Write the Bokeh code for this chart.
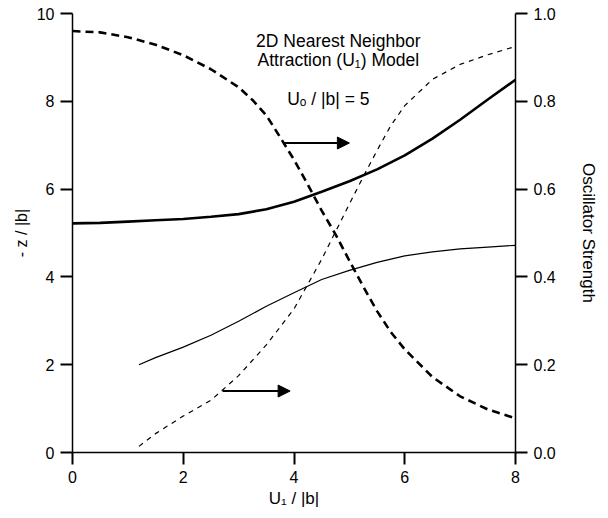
from bokeh.plotting import figure
from bokeh.models import (Range1d, LinearAxis, FixedTicker, PrintfTickFormatter,
                          Arrow, NormalHead, ColumnDataSource)
from bokeh.core.properties import value
from bokeh.embed import file_html
from bokeh.resources import INLINE

FONT = "Liberation Sans"

# ---- data ----
# thick solid, left axis (-z/|b|)
x_thick = [0, 0.5, 1.0, 1.5, 2.0, 2.5, 3.0, 3.5, 4.0, 4.5, 5.0, 5.5, 6.0, 6.5, 7.0, 7.5, 8.0]
z_thick = [5.22, 5.23, 5.26, 5.29, 5.32, 5.37, 5.43, 5.54, 5.71, 5.94, 6.18, 6.45, 6.77, 7.15, 7.58, 8.04, 8.49]

# thin solid, left axis
x_thin = [1.2, 1.5, 2.0, 2.5, 3.0, 3.5, 4.0, 4.5, 5.0, 5.5, 6.0, 6.5, 7.0, 7.5, 8.0]
z_thin = [2.00, 2.16, 2.40, 2.67, 2.99, 3.33, 3.64, 3.94, 4.15, 4.33, 4.48, 4.57, 4.64, 4.68, 4.72]

# thick dashed, right axis (oscillator strength)
x_osc_thick = [0, 0.5, 1.0, 1.5, 2.0, 2.5, 3.0, 3.25, 3.5, 3.75, 4.0, 4.25, 4.5, 4.75,
               5.0, 5.25, 5.5, 5.75, 6.0, 6.5, 7.0, 7.5, 8.0]
f_osc_thick = [0.960, 0.957, 0.946, 0.929, 0.905, 0.873, 0.832, 0.803, 0.768, 0.718, 0.667,
               0.610, 0.551, 0.497, 0.437, 0.378, 0.322, 0.274, 0.235, 0.172, 0.128, 0.098, 0.078]

# thin dashed, right axis
x_osc_thin = [1.2, 1.5, 2.0, 2.5, 3.0, 3.5, 4.0, 4.5, 5.0, 5.25, 5.5, 5.75, 6.0, 6.5, 7.0, 7.5, 8.0]
f_osc_thin = [0.014, 0.043, 0.083, 0.119, 0.175, 0.245, 0.327, 0.440, 0.566, 0.628, 0.688,
              0.745, 0.790, 0.850, 0.884, 0.906, 0.925]

# tick values
x_ticks = [0, 2, 4, 6, 8]
z_ticks = [0, 2, 4, 6, 8, 10]
f_ticks = [0.0, 0.2, 0.4, 0.6, 0.8, 1.0]

# arrows (left-axis units)
arrow_x_start = [3.82, 2.71]
arrow_x_end = [5.0, 3.93]
arrow_y = [7.05, 1.40]

# annotations
note_x = [4.8, 4.8, 4.62]
note_y = [9.38, 8.93, 8.06]
note_text = ["2D Nearest Neighbor", "Attraction (U\u2081) Model", "U\u2092 / |b| = 5"]

# ---- figure ----
p = figure(width=608, height=518, output_backend="svg", toolbar_location=None,
           x_range=Range1d(0, 8), y_range=Range1d(0, 10),
           min_border_left=72, min_border_right=93, min_border_top=13, min_border_bottom=66)
p.extra_y_ranges = {"osc": Range1d(0, 1.0)}
p.xgrid.visible = False
p.ygrid.visible = False
p.outline_line_color = None
p.background_fill_color = "white"
p.border_fill_color = "white"

right_axis = LinearAxis(y_range_name="osc")
p.add_layout(right_axis, "right")

p.xaxis.ticker = FixedTicker(ticks=x_ticks)
p.yaxis[0].ticker = FixedTicker(ticks=z_ticks)
right_axis.ticker = FixedTicker(ticks=f_ticks)
right_axis.formatter = PrintfTickFormatter(format="%.1f")

p.xaxis.axis_label = "U\u2081 / |b|"
p.yaxis[0].axis_label = "- z / |b|"
right_axis.axis_label = "Oscillator Strength"

for ax in [p.xaxis[0], p.yaxis[0], right_axis]:
    ax.axis_line_width = 1.5
    ax.axis_line_color = "black"
    ax.major_tick_line_width = 2
    ax.major_tick_line_color = "black"
    ax.major_tick_out = 12
    ax.major_tick_in = 0
    ax.minor_tick_line_color = None
    ax.major_label_standoff = 6
    ax.major_label_text_font = FONT
    ax.major_label_text_font_size = "16px"
    ax.major_label_text_color = "black"
    ax.axis_label_text_font = FONT
    ax.axis_label_text_font_size = "16px"
    ax.axis_label_text_font_style = "normal"
    ax.axis_label_text_color = "black"

right_axis.axis_label_text_font_size = "17px"
p.xaxis[0].axis_label_text_font_size = "17px"
p.yaxis[0].axis_label_standoff = 4
p.xaxis[0].axis_label_standoff = 3
right_axis.axis_label_standoff = 20

# curves
p.line(x_thick, z_thick, line_color="black", line_width=2.6)
p.line(x_thin, z_thin, line_color="black", line_width=1.2)
p.line(x_osc_thick, f_osc_thick, y_range_name="osc", line_color="black",
       line_width=2.6, line_dash="8 5")
p.line(x_osc_thin, f_osc_thin, y_range_name="osc", line_color="black",
       line_width=1.2, line_dash="5 5")

# arrows
arrow_src = ColumnDataSource(dict(x0=arrow_x_start, x1=arrow_x_end, y0=arrow_y, y1=arrow_y))
p.add_layout(Arrow(end=NormalHead(size=12, fill_color="black", line_color="black"),
                   x_start="x0", y_start="y0", x_end="x1", y_end="y1",
                   source=arrow_src, line_width=2, line_color="black"))

# text notes
p.text(x=note_x, y=note_y, text=note_text, text_font=value(FONT),
       text_font_size="17.5px", text_align="center", text_baseline="alphabetic",
       text_color="black")

open("out.html", "w").write(file_html(p, INLINE))
